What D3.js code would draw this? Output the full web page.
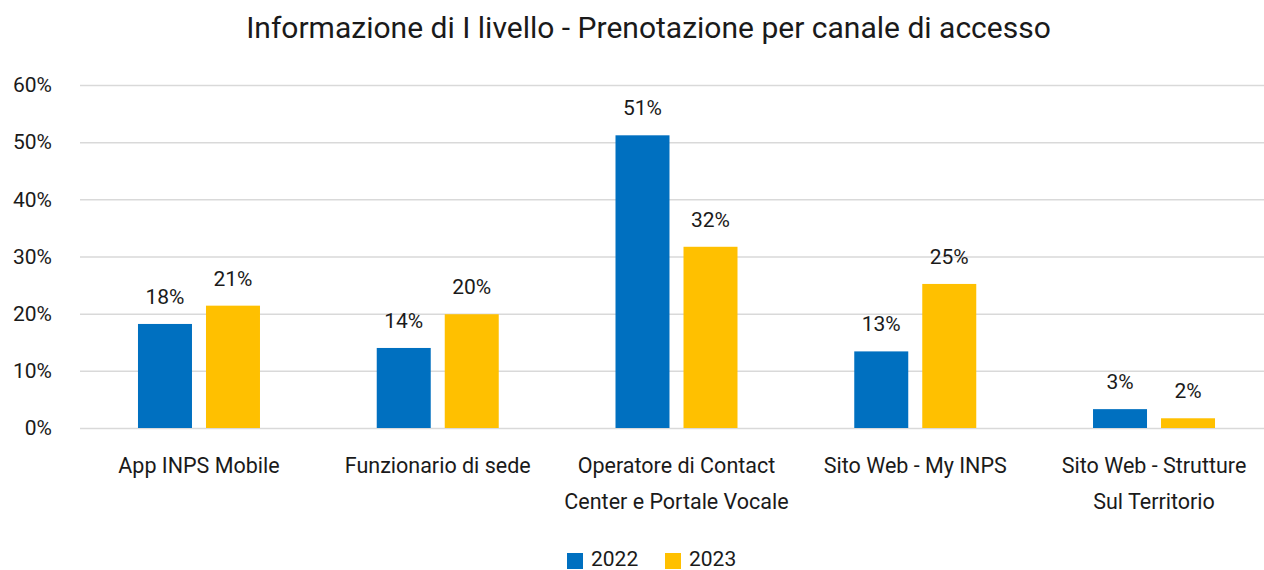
<!DOCTYPE html>
<html>
<head>
<meta charset="utf-8">
<script src="https://cdn.jsdelivr.net/npm/d3@7"></script>
<style>
  html, body { margin: 0; padding: 0; background: #fff; }
  svg { display: block; font-family: Roboto, "Noto Sans", sans-serif; }
</style>
</head>
<body>
<svg id="chart" width="1264" height="570"></svg>
<script>
const title = "Informazione di I livello - Prenotazione per canale di accesso";
const categories = [
  ["App INPS Mobile"],
  ["Funzionario di sede"],
  ["Operatore di Contact", "Center e Portale Vocale"],
  ["Sito Web - My INPS"],
  ["Sito Web - Strutture", "Sul Territorio"]
];
const seriesNames = ["2022", "2023"];
const values2022 = [18.2, 14.0, 51.2, 13.4, 3.3];
const values2023 = [21.4, 19.9, 31.7, 25.2, 1.7];
const yTicks = [0, 10, 20, 30, 40, 50, 60];
const colors = ["#0070C0", "#FFC000"];

const svg = d3.select("#chart");
const W = 1264, H = 570;
const catKeys = categories.map(c => c.join(" "));
const seriesValues = [values2022, values2023];

const x0 = d3.scaleBand().domain(catKeys).range([79.6, 1273.4]).padding(0);
const bw = x0.bandwidth();
const x1 = d3.scaleBand().domain(seriesNames)
  .range([bw / 2 - 61, bw / 2 + 61]).paddingInner(0.206).paddingOuter(0);
const y = d3.scaleLinear().domain([0, 60]).range([428, 85]);

// Title
const t = svg.append("text")
  .attr("x", 648.5).attr("y", 38)
  .attr("text-anchor", "middle")
  .attr("fill", "#1a1a1a")
  .style("font-size", "28px")
  .text(title);
const tl = t.node().getComputedTextLength();
t.style("font-size", (28 * 805 / tl).toFixed(2) + "px");

// Grid lines + y labels via axis
const yAxis = d3.axisLeft(y).tickValues(yTicks).tickFormat(d => d + "%")
  .tickSize(-(W - 80)).tickPadding(28);
const gy = svg.append("g").attr("transform", "translate(80,0)").call(yAxis);
gy.select(".domain").remove();
gy.selectAll(".tick line").attr("stroke", "#d9d9d9").attr("stroke-width", 1.5);
gy.selectAll(".tick text").attr("fill", "#1a1a1a").style("font-size", "21px")
  .attr("font-family", "Roboto, sans-serif");

// Bars
const groups = svg.append("g").selectAll("g")
  .data(catKeys).join("g")
  .attr("transform", d => `translate(${x0(d)},0)`);

groups.each(function(cat, i) {
  const g = d3.select(this);
  seriesNames.forEach((s, j) => {
    const v = seriesValues[j][i];
    g.append("rect")
      .attr("x", x1(s))
      .attr("y", y(v))
      .attr("width", x1.bandwidth())
      .attr("height", y(0) - y(v))
      .attr("fill", colors[j]);
    g.append("text")
      .attr("x", x1(s) + x1.bandwidth() / 2)
      .attr("y", y(v) - 20)
      .attr("text-anchor", "middle")
      .attr("fill", "#1a1a1a")
      .style("font-size", "21px")
      .text(Math.round(v) + "%");
  });
});

// Category labels
const xl = svg.append("g");
categories.forEach((lines, i) => {
  const cx = x0(catKeys[i]) + bw / 2;
  const txt = xl.append("text")
    .attr("x", cx).attr("y", 473)
    .attr("text-anchor", "middle")
    .attr("fill", "#1a1a1a")
    .style("font-size", "21.5px");
  lines.forEach((ln, k) => {
    txt.append("tspan").attr("x", cx).attr("dy", k === 0 ? 0 : 36).text(ln);
  });
});

// Legend
const legendX = [567, 665];
const lg = svg.append("g");
seriesNames.forEach((s, j) => {
  lg.append("rect").attr("x", legendX[j]).attr("y", 553).attr("width", 16).attr("height", 16)
    .attr("fill", colors[j]);
  lg.append("text").attr("x", legendX[j] + 24).attr("y", 566)
    .attr("fill", "#1a1a1a").style("font-size", "21px").text(s);
});
</script>
</body>
</html>
